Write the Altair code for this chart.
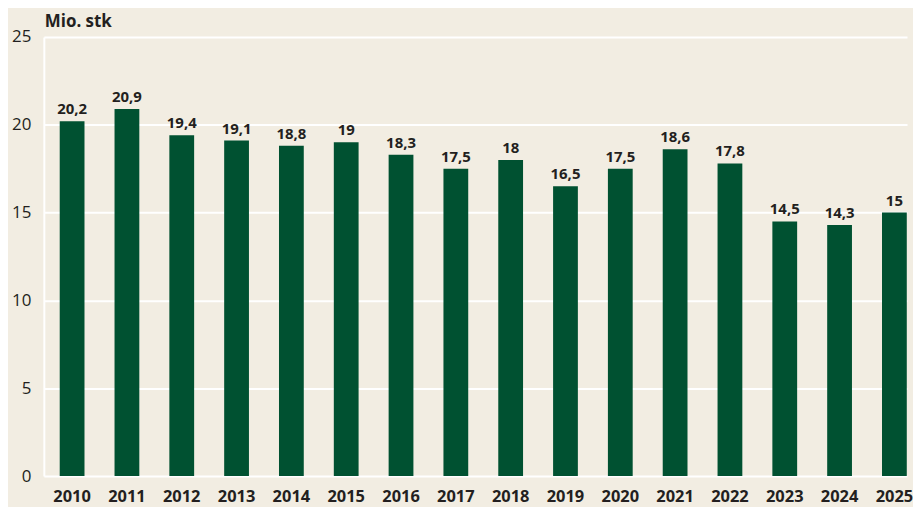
import altair as alt
import pandas as pd

years = [str(y) for y in range(2010, 2026)]
values = [20.2, 20.9, 19.4, 19.1, 18.8, 19, 18.3, 17.5, 18, 16.5, 17.5, 18.6, 17.8, 14.5, 14.3, 15]
y_ticks = [0, 5, 10, 15, 20, 25]

df = pd.DataFrame({"year": years, "value": values})
df["label"] = df["value"].map(lambda v: (f"{v:g}").replace(".", ","))

BG = "#F2EDE2"
GREEN = "#005131"
TXT = "#231f20"
FONT = "Open Sans"

x = alt.X("year:N", sort=years,
          scale=alt.Scale(paddingInner=0.548, paddingOuter=0.147, align=0.985),
          axis=alt.Axis(title=None, labelAngle=0, labelFont=FONT, labelFontSize=16.5,
                        labelFontWeight="bold", labelColor=TXT, ticks=False,
                        domain=False, labelPadding=13))
y = alt.Y("value:Q", scale=alt.Scale(domain=[0, 25], nice=False),
          axis=alt.Axis(title=None, values=y_ticks, labelFont=FONT, labelFontSize=17,
                        labelColor=TXT, ticks=False, domain=True, domainColor="white",
                        domainWidth=2, gridColor="white", gridWidth=2, labelPadding=13))

bars = alt.Chart(df).mark_bar(color=GREEN).encode(x=x, y=y)
text = alt.Chart(df).mark_text(baseline="bottom", dy=-4, font=FONT, fontSize=15,
                                fontWeight="bold", color=TXT).encode(x=x, y=y, text="label:N")

chart = (bars + text).properties(
    width=867, height=441,
    title=alt.TitleParams("Mio. stk", anchor="start", frame="group", font=FONT,
                          fontSize=17, fontWeight="bold", color=TXT, offset=3, dx=1, dy=6),
    background=BG,
    padding={"left": 3, "top": 4, "right": 0, "bottom": 0},
).configure_view(stroke=None)

chart.save("out.html", embed_options={"renderer": "svg", "actions": False})
